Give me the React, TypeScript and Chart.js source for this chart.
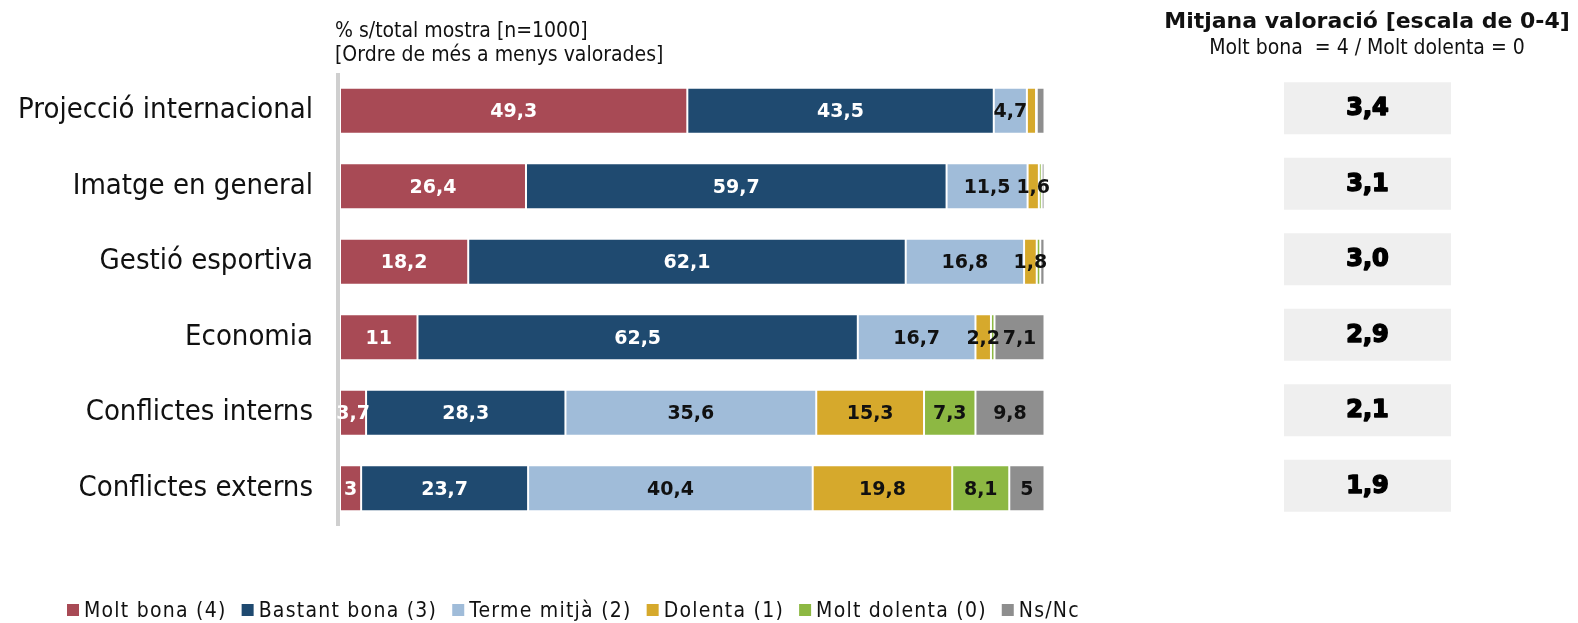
import React, { useEffect, useRef } from 'react';
import { Chart, registerables } from 'chart.js';

Chart.register(...registerables);

const categories = [
  'Projecció internacional',
  'Imatge en general',
  'Gestió esportiva',
  'Economia',
  'Conflictes interns',
  'Conflictes externs',
];
const seriesNames = ['Molt bona (4)', 'Bastant bona (3)', 'Terme mitjà (2)', 'Dolenta (1)', 'Molt dolenta (0)', 'Ns/Nc'];
const moltBona = [49.3, 26.4, 18.2, 11, 3.7, 3];
const bastantBona = [43.5, 59.7, 62.1, 62.5, 28.3, 23.7];
const termeMitja = [4.7, 11.5, 16.8, 16.7, 35.6, 40.4];
const dolenta = [1.3, 1.6, 1.8, 2.2, 15.3, 19.8];
const moltDolenta = [0.1, 0.4, 0.5, 0.5, 7.3, 8.1];
const nsNc = [1.1, 0.4, 0.6, 7.1, 9.8, 5];
const averages = [3.4, 3.1, 3.0, 2.9, 2.1, 1.9];

const seriesColors = ['#A84A55', '#1F4A70', '#A0BCD9', '#D6A92C', '#8DB843', '#8E8E8E'];
const labelColors = ['#ffffff', '#ffffff', '#111111', '#111111', '#111111', '#111111'];

const subtitleLines = ['% s/total mostra [n=1000]', '[Ordre de més a menys valorades]'];
const rightTitle = 'Mitjana valoració [escala de 0-4]';
const rightSubtitle = 'Molt bona  = 4 / Molt dolenta = 0';

const CONDENSED = "'Liberation Sans Narrow', 'DejaVu Sans Condensed', 'Roboto', sans-serif";
const WIDE_BOLD = "'DejaVu Sans', 'Open Sans', sans-serif";

const fmt = (v: number) => String(v).replace('.', ',');

const decorPlugin = {
  id: 'decor',
  beforeDatasetsDraw(chart: any) {
    const { ctx, chartArea } = chart;
    ctx.save();
    ctx.fillStyle = '#cfcfcf';
    ctx.fillRect(chartArea.left - 4, chartArea.top, 4, chartArea.bottom - chartArea.top);
    ctx.restore();
  },
  afterDatasetsDraw(chart: any) {
    const { ctx } = chart;
    ctx.save();
    ctx.font = `700 19px ${WIDE_BOLD}`;
    ctx.textAlign = 'center';
    ctx.textBaseline = 'middle';
    chart.data.datasets.forEach((ds: any, di: number) => {
      const meta = chart.getDatasetMeta(di);
      meta.data.forEach((el: any, i: number) => {
        const v = ds.data[i];
        if (v < 1.5) return;
        const cx = (el.x + el.base) / 2;
        ctx.fillStyle = labelColors[di];
        ctx.fillText(fmt(v), cx, el.y + 1.5);
      });
    });
    ctx.restore();
  },
  afterDraw(chart: any) {
    const { ctx, chartArea, scales } = chart;
    ctx.save();
    // subtitle
    ctx.fillStyle = '#111111';
    ctx.textAlign = 'left';
    ctx.textBaseline = 'middle';
    ctx.font = `21px ${CONDENSED}`;
    ctx.fillText(subtitleLines[0], chartArea.left - 5, 32);
    ctx.fillText(subtitleLines[1], chartArea.left - 5, 55.5);

    // right panel
    const boxLeft = 1284;
    const boxRight = 1451;
    const cx = (boxLeft + boxRight) / 2;
    ctx.textAlign = 'center';
    ctx.font = `700 22px ${WIDE_BOLD}`;
    ctx.fillText(rightTitle, 1367, 22);
    ctx.font = `21px ${CONDENSED}`;
    ctx.fillText(rightSubtitle, 1367, 49);

    const y = scales.y;
    averages.forEach((a, i) => {
      const yc = y.getPixelForValue(i) - 2.5;
      ctx.fillStyle = '#efefef';
      ctx.fillRect(boxLeft, yc - 26, boxRight - boxLeft, 52);
      ctx.fillStyle = '#000000';
      ctx.strokeStyle = '#000000';
      ctx.lineWidth = 1.6;
      ctx.lineJoin = 'round';
      ctx.font = `700 24px ${WIDE_BOLD}`;
      const t = a.toFixed(1).replace('.', ',');
      ctx.fillText(t, cx, yc + 1);
      ctx.strokeText(t, cx, yc + 1);
    });

    // legend
    ctx.textAlign = 'left';
    ctx.font = `21px ${CONDENSED}`;
    try {
      (ctx as any).letterSpacing = '1.25px';
    } catch (e) {}
    let x = 67;
    const ly = 611;
    chart.data.datasets.forEach((ds: any) => {
      ctx.fillStyle = ds.backgroundColor;
      ctx.fillRect(x, ly - 7, 12, 12);
      x += 17;
      ctx.fillStyle = '#111111';
      ctx.fillText(ds.label, x, ly + 1);
      x += ctx.measureText(ds.label).width + 15;
    });
    ctx.restore();
  },
};

export default function App() {
  const ref = useRef<HTMLCanvasElement | null>(null);
  useEffect(() => {
    if (!ref.current) return;
    const series = [moltBona, bastantBona, termeMitja, dolenta, moltDolenta, nsNc];
    const chart = new Chart(ref.current, {
      type: 'bar',
      data: {
        labels: categories,
        datasets: series.map((d, i) => ({
          label: seriesNames[i],
          data: d,
          backgroundColor: seriesColors[i],
          borderColor: 'rgba(255,255,255,0.3)',
          borderWidth: 1,
          borderSkipped: false,
          barPercentage: 0.61,
          categoryPercentage: 1,
        })),
      },
      options: {
        indexAxis: 'y',
        responsive: false,
        animation: false,
        layout: { padding: { top: 73, bottom: 97, left: 0, right: 533.5 } },
        plugins: {
          legend: { display: false },
          tooltip: { enabled: false },
          title: { display: false },
        },
        scales: {
          x: { stacked: true, min: 0, max: 100, display: false },
          y: {
            stacked: true,
            grid: { display: false, drawTicks: false },
            border: { display: false },
            ticks: {
              color: '#111111',
              padding: 27,
              font: { family: CONDENSED, size: 29 },
            },
            afterFit(scale: any) {
              scale.width = 340;
            },
          },
        },
      },
      plugins: [decorPlugin],
    });
    return () => chart.destroy();
  }, []);
  return (
    <div style={{ position: 'absolute', left: 0, top: 0, width: 1578, height: 623, background: '#ffffff' }}>
      <canvas ref={ref} width={1578} height={623} />
    </div>
  );
}
